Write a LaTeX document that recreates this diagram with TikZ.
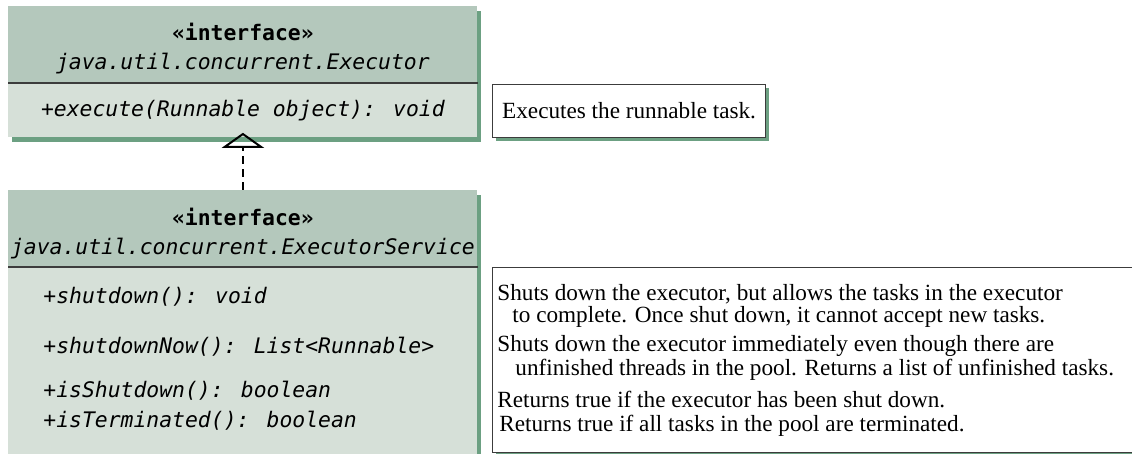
\documentclass[tikz,border=0pt]{standalone}
\usepackage{fontspec}
\setmainfont{Liberation Serif}
\newfontfamily\umlmono{DejaVu Sans Mono}
\usetikzlibrary{arrows.meta,shadows}

\definecolor{headgreen}{RGB}{180,200,188}
\definecolor{bodygreen}{RGB}{214,224,216}
\definecolor{shadegreen}{RGB}{108,160,130}
\definecolor{rulegray}{RGB}{60,60,60}

\begin{document}
\begin{tikzpicture}[
    x=0.5pt, y=-0.5pt,
    greenshadow/.style={drop shadow={shadow xshift=2pt, shadow yshift=-2.5pt, fill=shadegreen, opacity=1}},
    classhead/.style={rectangle, anchor=north west, fill=headgreen, greenshadow, minimum width=234.5pt, minimum height=38.5pt, inner sep=0pt, align=center, font=\umlmono\fontsize{10.7}{14.5}\selectfont},
    classbody/.style={rectangle, anchor=north west, fill=bodygreen, greenshadow, minimum width=234.5pt, inner sep=0pt, font=\umlmono\itshape\fontsize{10.7}{13}\selectfont},
    method/.style={anchor=west, inner sep=0pt, font=\umlmono\itshape\fontsize{10.7}{13}\selectfont},
    note/.style={rectangle, anchor=north west, draw=rulegray, line width=0.6pt, fill=white, drop shadow={shadow xshift=1.5pt, shadow yshift=-1.5pt, fill=shadegreen, opacity=1}, inner sep=0pt, font=\fontsize{11.6}{12}\selectfont},
    desc/.style={anchor=west, inner sep=0pt, align=left, font=\fontsize{11.6}{9}\selectfont},
    divider/.style={rulegray, line width=0.8pt},
    realize/.style={dash pattern=on 4pt off 2.5pt, line width=0.9pt, -{Triangle[open, width=21pt, length=7.5pt, line width=1pt]}, shorten >=-2.5pt}
]
    \useasboundingbox (0,0) rectangle (1132,454);
    \clip (0,0) rectangle (1132,454);

    % Executor interface
    \node[classhead] (exechead) at (8,6) {\rule{0pt}{12pt}\textbf{«interface»}\\\textit{java.util.concurrent.Executor}};
    \node[classbody, minimum height=27pt] (execbody) at (8,83) {+execute(Runnable object): void};
    \draw[divider] (execbody.north west) -- (execbody.north east);
    \node[note, minimum width=136.5pt, minimum height=26.5pt] (execnote) at (492,84) {Executes the runnable task.};

    % ExecutorService interface
    \node[classhead] (svchead) at (8,190) {\rule{0pt}{13pt}\textbf{«interface»}\\\textit{java.util.concurrent.ExecutorService}};
    \node[classbody, minimum height=100pt] (svcbody) at (8,267) {};
    \draw[divider] (svcbody.north west) -- (svcbody.north east);
    \node[note, minimum width=324pt, minimum height=92.5pt] (svcnote) at (492,267) {};

    % Methods
    \node[method] (shutdown) at (43,297) {+shutdown(): void};
    \node[method] (shutdownnow) at (43,347) {+shutdownNow(): List<Runnable>};
    \node[method] (isshutdown) at (43,391) {+isShutdown(): boolean};
    \node[method] (isterminated) at (43,421) {+isTerminated(): boolean};

    % Descriptions
    \node[desc] (shutdowndesc) at (497,306) {Shuts down the executor, but allows the tasks in the executor\\\hspace*{7.5pt}to complete. Once shut down, it cannot accept new tasks.};
    \node[desc] (shutdownnowdesc) at (497,358) {Shuts down the executor immediately even though there are\\\hspace*{9pt}unfinished threads in the pool. Returns a list of unfinished tasks.};
    \node[desc] (isshutdowndesc) at (497,399) {Returns true if the executor has been shut down.};
    \node[desc] (isterminateddesc) at (499,426) {Returns true if all tasks in the pool are terminated.};

    % Realization
    \draw[realize] (svchead.north) -- (execbody.south);
\end{tikzpicture}
\end{document}
